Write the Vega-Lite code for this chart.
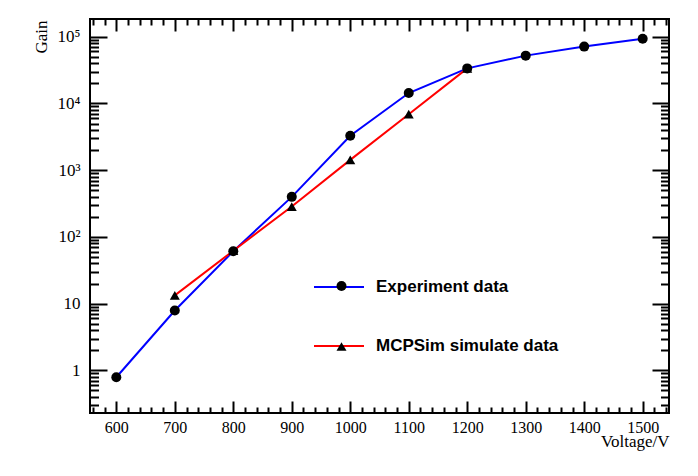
{
  "$schema": "https://vega.github.io/schema/vega-lite/v6.json",
  "width": 579,
  "height": 394,
  "autosize": {"type": "none"},
  "padding": {"left": 90, "top": 19, "right": 29, "bottom": 63},
  "background": "white",
  "config": {
    "view": {"stroke": "black", "strokeWidth": 2},
    "axis": {
      "grid": false,
      "domain": false,
      "tickColor": "black",
      "tickWidth": 2,
      "labelColor": "black",
      "labelFont": "Liberation Serif",
      "titleFont": "Liberation Serif",
      "titleFontWeight": "normal",
      "titleColor": "black",
      "labelOverlap": false,
      "labelBound": false,
      "labelFlush": false
    }
  },
  "data": {
    "values": [
      {"series": "Experiment data", "voltage": 600, "gain": 0.79},
      {"series": "Experiment data", "voltage": 700, "gain": 7.9},
      {"series": "Experiment data", "voltage": 800, "gain": 61},
      {"series": "Experiment data", "voltage": 900, "gain": 398},
      {"series": "Experiment data", "voltage": 1000, "gain": 3280},
      {"series": "Experiment data", "voltage": 1100, "gain": 14300},
      {"series": "Experiment data", "voltage": 1200, "gain": 33500},
      {"series": "Experiment data", "voltage": 1300, "gain": 52000},
      {"series": "Experiment data", "voltage": 1400, "gain": 71000},
      {"series": "Experiment data", "voltage": 1500, "gain": 93000},
      {"series": "MCPSim simulate data", "voltage": 700, "gain": 13.3},
      {"series": "MCPSim simulate data", "voltage": 800, "gain": 62},
      {"series": "MCPSim simulate data", "voltage": 900, "gain": 285},
      {"series": "MCPSim simulate data", "voltage": 1000, "gain": 1426},
      {"series": "MCPSim simulate data", "voltage": 1100, "gain": 6900},
      {"series": "MCPSim simulate data", "voltage": 1200, "gain": 33500}
    ]
  },
  "resolve": {"axis": {"x": "independent", "y": "independent"}},
  "layer": [
    {
      "transform": [{"filter": "datum.series == 'Experiment data'"}],
      "mark": {"type": "line", "strokeWidth": 2},
      "encoding": {
        "x": {
          "field": "voltage", "type": "quantitative",
          "scale": {"domain": [555, 1545], "nice": false, "zero": false},
          "axis": {
            "orient": "bottom",
            "values": [600, 700, 800, 900, 1000, 1100, 1200, 1300, 1400, 1500],
            "format": "d",
            "tickSize": -12,
            "labelPadding": 18,
            "labelFontSize": 16,
            "title": "Voltage/V",
            "titleFontSize": 17,
            "titleX": 579,
            "titleY": 33,
            "titleAlign": "right",
            "titleBaseline": "alphabetic"
          }
        },
        "y": {
          "field": "gain", "type": "quantitative",
          "scale": {"type": "log", "domain": [0.23, 184000], "nice": false},
          "axis": {
            "orient": "left",
            "values": [1, 10, 100, 1000, 10000, 100000],
            "tickSize": -17,
            "labelPadding": 27,
            "labelFontSize": 17,
            "labelExpr": "datum.value == 1 ? '1' : datum.value == 10 ? '10' : datum.value == 100 ? '10²' : datum.value == 1000 ? '10³' : datum.value == 10000 ? '10⁴' : '10⁵'",
            "title": "Gain",
            "titleFontSize": 17,
            "titleX": -44,
            "titleY": 1,
            "titleAngle": 270,
            "titleAlign": "right",
            "titleBaseline": "alphabetic"
          }
        },
        "color": {
          "field": "series", "type": "nominal",
          "scale": {"domain": ["Experiment data", "MCPSim simulate data"], "range": ["#0000ff", "#ff0000"]},
          "legend": {
            "title": null,
            "orient": "none",
            "legendX": 223,
            "legendY": 242,
            "padding": 0,
            "symbolType": "stroke",
            "symbolSize": 2500,
            "symbolStrokeWidth": 2,
            "rowPadding": 25,
            "labelOffset": 11,
            "labelLimit": 400,
            "labelFont": "Liberation Sans",
            "labelFontWeight": "bold",
            "labelFontSize": 17,
            "labelColor": "black"
          }
        }
      }
    },
    {
      "transform": [{"filter": "datum.series == 'MCPSim simulate data'"}],
      "mark": {"type": "line", "strokeWidth": 2},
      "encoding": {
        "x": {
          "field": "voltage", "type": "quantitative",
          "scale": {"domain": [555, 1545], "nice": false, "zero": false},
          "axis": {
            "orient": "bottom",
            "values": [560, 580, 620, 640, 660, 680, 720, 740, 760, 780, 820, 840, 860, 880, 920, 940, 960, 980, 1020, 1040, 1060, 1080, 1120, 1140, 1160, 1180, 1220, 1240, 1260, 1280, 1320, 1340, 1360, 1380, 1420, 1440, 1460, 1480, 1520, 1540],
            "tickSize": -6,
            "labels": false,
            "title": null
          }
        },
        "y": {
          "field": "gain", "type": "quantitative",
          "scale": {"type": "log", "domain": [0.23, 184000], "nice": false},
          "axis": {
            "orient": "left",
            "values": [0.3, 0.4, 0.5, 0.6, 0.7, 0.8, 0.9, 2, 3, 4, 5, 6, 7, 8, 9, 20, 30, 40, 50, 60, 70, 80, 90, 200, 300, 400, 500, 600, 700, 800, 900, 2000, 3000, 4000, 5000, 6000, 7000, 8000, 9000, 20000, 30000, 40000, 50000, 60000, 70000, 80000, 90000],
            "tickSize": -8.5,
            "labels": false,
            "title": null
          }
        },
        "color": {
          "field": "series", "type": "nominal",
          "scale": {"domain": ["Experiment data", "MCPSim simulate data"], "range": ["#0000ff", "#ff0000"]}
        }
      }
    },
    {
      "transform": [{"filter": "datum.series == 'Experiment data'"}],
      "mark": {"type": "point", "filled": true, "color": "black", "opacity": 1, "size": 100},
      "encoding": {
        "x": {
          "field": "voltage", "type": "quantitative",
          "scale": {"domain": [555, 1545], "nice": false, "zero": false},
          "axis": {
            "orient": "top",
            "values": [600, 700, 800, 900, 1000, 1100, 1200, 1300, 1400, 1500],
            "tickSize": -12,
            "labels": false,
            "title": null
          }
        },
        "y": {
          "field": "gain", "type": "quantitative",
          "scale": {"type": "log", "domain": [0.23, 184000], "nice": false},
          "axis": {
            "orient": "right",
            "values": [1, 10, 100, 1000, 10000, 100000],
            "tickSize": -17,
            "labels": false,
            "title": null
          }
        },
        "shape": {
          "field": "series", "type": "nominal",
          "scale": {"range": ["circle", "triangle-up"]},
          "legend": {
            "title": null,
            "orient": "none",
            "legendX": 243,
            "legendY": 258.5,
            "padding": 0,
            "symbolSize": 100,
            "symbolFillColor": "black",
            "symbolStrokeColor": "black",
            "symbolOpacity": 1,
            "rowPadding": 42.5,
            "labelFontSize": 17,
            "labelExpr": "''"
          }
        }
      }
    },
    {
      "transform": [{"filter": "datum.series == 'MCPSim simulate data'"}],
      "mark": {"type": "point", "filled": true, "color": "black", "opacity": 1, "size": 100},
      "encoding": {
        "x": {
          "field": "voltage", "type": "quantitative",
          "scale": {"domain": [555, 1545], "nice": false, "zero": false},
          "axis": {
            "orient": "top",
            "values": [560, 580, 620, 640, 660, 680, 720, 740, 760, 780, 820, 840, 860, 880, 920, 940, 960, 980, 1020, 1040, 1060, 1080, 1120, 1140, 1160, 1180, 1220, 1240, 1260, 1280, 1320, 1340, 1360, 1380, 1420, 1440, 1460, 1480, 1520, 1540],
            "tickSize": -6,
            "labels": false,
            "title": null
          }
        },
        "y": {
          "field": "gain", "type": "quantitative",
          "scale": {"type": "log", "domain": [0.23, 184000], "nice": false},
          "axis": {
            "orient": "right",
            "values": [0.3, 0.4, 0.5, 0.6, 0.7, 0.8, 0.9, 2, 3, 4, 5, 6, 7, 8, 9, 20, 30, 40, 50, 60, 70, 80, 90, 200, 300, 400, 500, 600, 700, 800, 900, 2000, 3000, 4000, 5000, 6000, 7000, 8000, 9000, 20000, 30000, 40000, 50000, 60000, 70000, 80000, 90000],
            "tickSize": -8.5,
            "labels": false,
            "title": null
          }
        },
        "shape": {
          "field": "series", "type": "nominal",
          "scale": {"range": ["circle", "triangle-up"]}
        }
      }
    }
  ]
}
